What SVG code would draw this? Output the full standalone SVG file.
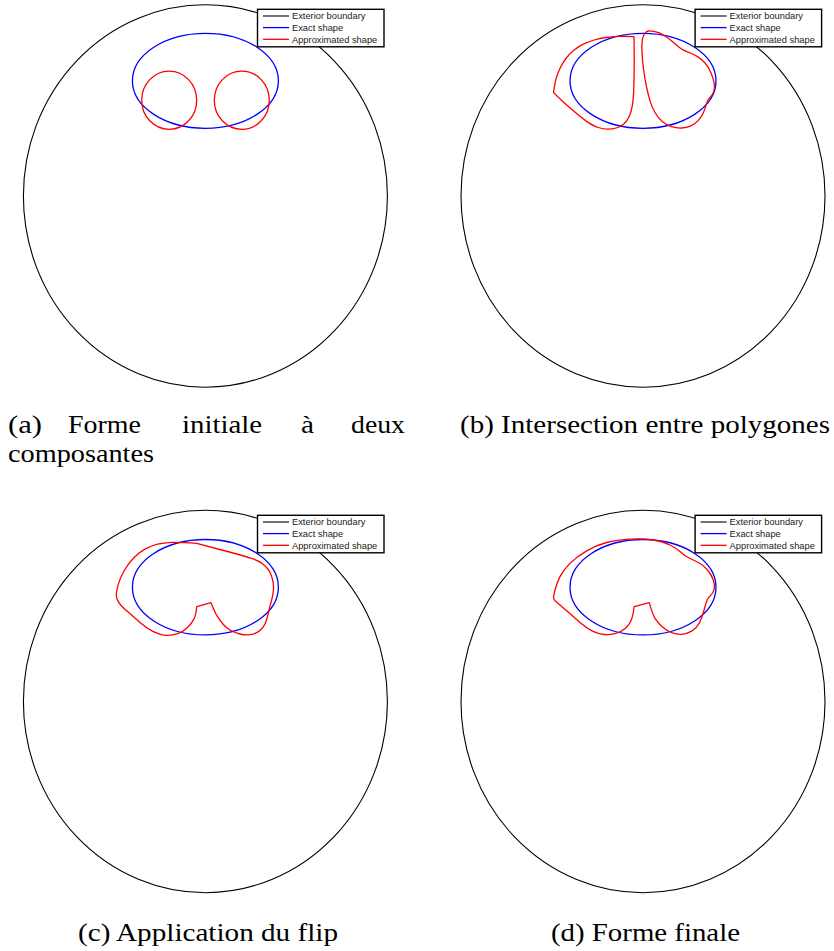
<svg xmlns="http://www.w3.org/2000/svg" width="834" height="951" viewBox="0 0 834 951">
<style>
.ext{fill:none;stroke:#000;stroke-width:1.1}
.exact{fill:none;stroke:#0000ff;stroke-width:1.3}
.approx{fill:none;stroke:#ff0000;stroke-width:1.3;stroke-linejoin:round}
.lbox{fill:#fff;stroke:#000;stroke-width:1.4}
.lt{font-family:"Liberation Sans",Arial,sans-serif;font-size:9.3px;fill:#222}
.cap{font-family:"Liberation Serif","Times New Roman",serif;font-size:25px;fill:#000}
</style>
<defs>
<g id="legend">
<rect class="lbox" x="0" y="0" width="126.5" height="37.5"/>
<line x1="5.5" y1="6.7" x2="31.5" y2="6.7" stroke="#000" stroke-width="1.1"/>
<line x1="5.5" y1="18.3" x2="31.5" y2="18.3" stroke="#0000ff" stroke-width="1.3"/>
<line x1="5.5" y1="30" x2="31.5" y2="30" stroke="#ff0000" stroke-width="1.3"/>
<text class="lt" x="34.5" y="10">Exterior boundary</text>
<text class="lt" x="34.5" y="21.6">Exact shape</text>
<text class="lt" x="34.5" y="33.3">Approximated shape</text>
</g>
</defs>
<rect x="0" y="0" width="834" height="951" fill="#fff"/>

<g id="panel-a">
<ellipse class="ext" cx="205.4" cy="196" rx="182" ry="191.2"/>
<ellipse class="exact" cx="205.4" cy="80.8" rx="73" ry="47.5"/>
<ellipse class="approx" cx="169.2" cy="100.2" rx="27.5" ry="29.1"/>
<ellipse class="approx" cx="241.8" cy="100.2" rx="27.5" ry="29.1"/>
<use href="#legend" x="257.5" y="9.3"/>
</g>

<g id="panel-b">
<ellipse class="ext" cx="643" cy="196" rx="182" ry="191.2"/>
<ellipse class="exact" cx="643" cy="80.8" rx="73" ry="47.5"/>
<path class="approx" d="M634,36.7 L634.15,48.35 Q634.3,60 634.15,71.65 Q634,83.3 633.65,91.65 Q633.3,100 632.3,105.85 Q631.3,111.7 629.3,116.2 Q627.3,120.7 624,123.7 Q620.7,126.7 616.2,128 Q611.7,129.3 607.5,129.15 Q603.3,129 598.3,127.5 Q593.3,126 586.65,121.35 Q580,116.7 573.35,110.85 Q566.7,105 560.1,98.9 L553.5,92.5 Q555,81.7 556.65,76.7 Q558.3,71.7 560.8,66.7 Q563.3,61.7 566.65,57.5 Q570,53.3 574.15,50 Q578.3,46.7 583.3,44.2 Q588.3,41.7 594.15,40 Q600,38.3 605.85,37.5 Q611.7,36.7 617.5,36.35 Q623.3,36 634,36.7 Z"/>
<path class="approx" d="M648.35,31 Q650,30.7 655,31.7 Q660,32.7 665,36 Q670,39.3 674.15,43 Q678.3,46.7 681.15,48.7 Q684,50.7 688.65,52.35 Q693.3,54 697.5,56.65 Q701.7,59.3 705,63 Q708.3,66.7 710.8,72.5 Q713.3,78.3 714.15,82.8 Q715,87.3 713.85,91.15 Q712.7,95 710,97.5 Q707.3,100 706.3,104.15 Q705.3,108.3 703.5,112.5 Q701.7,116.7 698.35,120.35 Q695,124 690.85,125.85 Q686.7,127.7 681.7,128 Q676.7,128.3 671.7,126.65 Q666.7,125 662.5,121.65 Q658.3,118.3 655,112.5 Q651.7,106.7 650,100.85 Q648.3,95 646.65,87.5 Q645,80 643.65,70 Q642.3,60 642,51.65 Q641.7,43.3 642.5,39.15 Q643.3,35 645,33.15 Q646.7,31.3 648.35,31 Z"/>
<use href="#legend" x="695.1" y="9.3"/>
</g>

<g id="panel-c">
<ellipse class="ext" cx="205.4" cy="701.5" rx="182" ry="191.2"/>
<ellipse class="exact" cx="205.4" cy="587.2" rx="73" ry="47.7"/>
<path class="approx" d="M196.7,543.3 L221.7,550 Q246.7,556.7 252.5,558.7 Q258.3,560.7 262.5,563.7 Q266.7,566.7 269.2,570.85 Q271.7,575 272.85,580.85 Q274,586.7 273.15,592.5 Q272.3,598.3 270.8,603.3 Q269.3,608.3 268.3,613.3 Q267.3,618.3 265.3,623.3 Q263.3,628.3 259.15,631.15 Q255,634 250,634.65 Q245,635.3 240,634 Q235,632.7 230.85,630.5 Q226.7,628.3 223.35,624.5 Q220,620.7 217.5,616.7 Q215,612.7 211,602.7 L196.7,606.7 Q196,615 193.85,619.15 Q191.7,623.3 187.5,627.5 Q183.3,631.7 177.5,633.7 Q171.7,635.7 165.85,635.35 Q160,635 153.35,631.65 Q146.7,628.3 140,622.5 Q133.3,616.7 126.65,610.85 Q120,605 118,601.15 Q116,597.3 116.35,593.65 Q116.7,590 118.35,584.15 Q120,578.3 124.15,570.8 Q128.3,563.3 134.15,557.5 Q140,551.7 145.85,548.7 Q151.7,545.7 157.5,544.2 Q163.3,542.7 171.65,542.35 Q180,542 196.7,543.3 Z"/>
<use href="#legend" x="257.5" y="515.3"/>
</g>

<g id="panel-d">
<ellipse class="ext" cx="643" cy="701.5" rx="182" ry="191.2"/>
<ellipse class="exact" cx="643" cy="587.2" rx="73" ry="47.7"/>
<path class="approx" d="M634,606.7 Q633.3,615 631.3,620 Q629.3,625 625.5,628.35 Q621.7,631.7 615.85,633.35 Q610,635 604.15,634.5 Q598.3,634 592.5,631.15 Q586.7,628.3 580,622.5 Q573.3,616.7 566.65,610.85 Q560,605 557,602.5 Q554,600 553.65,598.35 Q553.3,596.7 555,590 Q556.7,583.3 560,576.65 Q563.3,570 570,563.35 Q576.7,556.7 586.7,550.85 Q596.7,545 606.7,542.5 Q616.7,540 630,539.15 Q643.3,538.3 653.3,540 Q663.3,541.7 670,545 Q676.7,548.3 680.85,552.15 Q685,556 689.15,558 Q693.3,560 698.3,562.5 Q703.3,565 707.5,570 Q711.7,575 713.35,580 Q715,585 714.15,589.15 Q713.3,593.3 710.3,595.8 Q707.3,598.3 706.15,602.5 Q705,606.7 703.35,612.5 Q701.7,618.3 699.2,623.3 Q696.7,628.3 691.7,631.15 Q686.7,634 681.7,634.35 Q676.7,634.7 671.7,632.7 Q666.7,630.7 662.5,627 Q658.3,623.3 655.5,619.15 Q652.7,615 649.3,602.7 L634,606.7 Z"/>
<use href="#legend" x="695.1" y="515.3"/>
</g>

<g id="captions">
<text class="cap" x="8" y="433" textLength="34" lengthAdjust="spacingAndGlyphs">(a)</text>
<text class="cap" x="68" y="433" textLength="73" lengthAdjust="spacingAndGlyphs">Forme</text>
<text class="cap" x="182" y="433" textLength="80" lengthAdjust="spacingAndGlyphs">initiale</text>
<text class="cap" x="301" y="433" textLength="13" lengthAdjust="spacingAndGlyphs">à</text>
<text class="cap" x="351" y="433" textLength="54" lengthAdjust="spacingAndGlyphs">deux</text>
<text class="cap" x="8" y="462" textLength="146" lengthAdjust="spacingAndGlyphs">composantes</text>
<text class="cap" x="460" y="433" textLength="370" lengthAdjust="spacingAndGlyphs">(b) Intersection entre polygones</text>
<text class="cap" x="78" y="941" textLength="260" lengthAdjust="spacingAndGlyphs">(c) Application du flip</text>
<text class="cap" x="551" y="941" textLength="189" lengthAdjust="spacingAndGlyphs">(d) Forme finale</text>
</g>
</svg>
